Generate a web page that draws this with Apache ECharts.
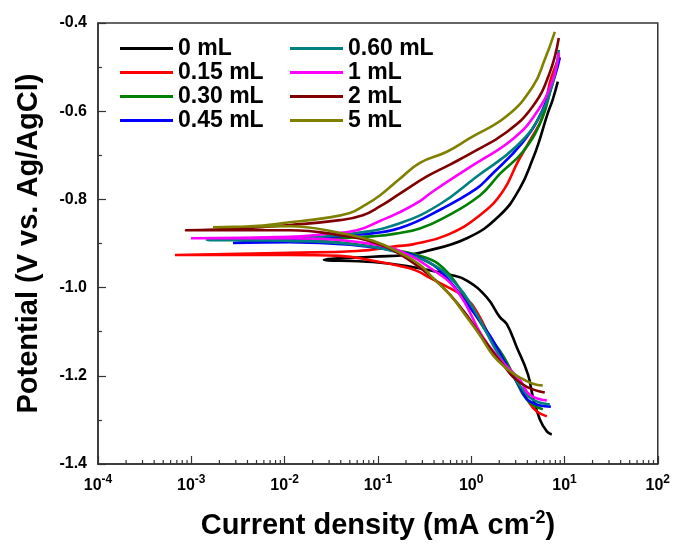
<!DOCTYPE html>
<html>
<head>
<meta charset="utf-8">
<script src="https://cdn.jsdelivr.net/npm/echarts@6/dist/echarts.min.js"></script>
<style>
  html, body { margin: 0; padding: 0; background: #ffffff; }
  #chart { width: 673px; height: 545px; }
</style>
</head>
<body>
<div id="chart"></div>
<script>
// Tafel polarization curves: current density (mA cm^-2) vs potential (V vs. Ag/AgCl)
const seriesNames = ['0 mL', '0.15 mL', '0.30 mL', '0.45 mL', '0.60 mL', '1 mL', '2 mL', '5 mL'];
const xDecades = [-4, -3, -2, -1, 0, 1, 2];
const yTickValues = [-1.4, -1.2, -1.0, -0.8, -0.6, -0.4];

// each curve: cathodic branch (from the high-current end) -> corrosion point -> anodic branch
const d0 = [
  [7.31, -1.333], [6.47, -1.326], [5.45, -1.299], [4.58, -1.247], [4.05, -1.196], [3.08, -1.135],
  [2.41, -1.083], [2.03, -1.067], [1.47, -1.022], [0.899, -0.984], [0.592, -0.971], [0.205, -0.951],
  [0.0885, -0.942], [0.0264, -0.937],
  [0.0885, -0.930], [0.205, -0.926], [0.282, -0.921], [0.899, -0.888], [2.03, -0.836], [3.32, -0.775],
  [4.58, -0.708], [5.45, -0.663], [6.47, -0.611], [7.50, -0.573], [8.49, -0.533]
];
const d015 = [
  [6.47, -1.292], [5.06, -1.281], [4.26, -1.263], [2.80, -1.196], [2.03, -1.146], [1.58, -1.112],
  [1.24, -1.067], [0.899, -1.025], [0.548, -0.998], [0.361, -0.978], [0.262, -0.962], [0.172, -0.951],
  [0.0885, -0.939], [0.0392, -0.928], [0.0114, -0.926], [0.000668, -0.926],
  [0.0114, -0.921], [0.0596, -0.917], [0.160, -0.906], [0.237, -0.902], [0.548, -0.881], [1.24, -0.836],
  [2.18, -0.782], [3.16, -0.715], [4.26, -0.667], [5.86, -0.611], [6.97, -0.535], [8.28, -0.490], [8.91, -0.477]
];
const d030 = [
  [5.86, -1.276], [3.95, -1.254], [2.80, -1.196], [2.18, -1.153], [1.58, -1.112], [1.04, -1.052],
  [0.703, -0.993], [0.498, -0.955], [0.335, -0.933], [0.172, -0.917], [0.0641, -0.903], [0.0239, -0.894],
  [0.00891, -0.888],
  [0.0239, -0.888], [0.0975, -0.883], [0.172, -0.876], [0.282, -0.866], [0.498, -0.843], [1.24, -0.791],
  [2.03, -0.742], [3.58, -0.692], [5.72, -0.618], [7.31, -0.539], [8.69, -0.472]
];
const d045 = [
  [7.14, -1.270], [4.26, -1.258], [3.32, -1.225], [2.30, -1.169], [1.58, -1.108], [0.968, -1.045],
  [0.548, -0.978], [0.361, -0.944], [0.172, -0.919], [0.0501, -0.903], [0.0114, -0.897], [0.00280, -0.899],
  [0.0114, -0.890], [0.0690, -0.879], [0.172, -0.865], [0.498, -0.820], [1.15, -0.775], [1.58, -0.748],
  [3.58, -0.670], [5.86, -0.596], [7.88, -0.521], [8.91, -0.479]
];
const d060 = [
  [6.97, -1.265], [4.58, -1.254], [3.58, -1.231], [2.03, -1.157], [1.04, -1.045], [0.637, -0.984],
  [0.388, -0.948], [0.172, -0.921], [0.0501, -0.901], [0.0114, -0.894], [0.00147, -0.892],
  [0.0114, -0.888], [0.0596, -0.876], [0.172, -0.854], [0.461, -0.811], [1.15, -0.748], [3.08, -0.679],
  [5.45, -0.611], [7.50, -0.535], [8.69, -0.461]
];
const d1 = [
  [6.47, -1.256], [4.26, -1.243], [3.32, -1.209], [2.03, -1.162], [1.33, -1.112], [0.703, -1.007],
  [0.361, -0.955], [0.172, -0.917], [0.0975, -0.903], [0.0392, -0.892], [0.0114, -0.888], [0.000991, -0.888],
  [0.0114, -0.885], [0.0258, -0.879], [0.0596, -0.870], [0.105, -0.849], [0.172, -0.829], [0.282, -0.804],
  [0.388, -0.782], [0.968, -0.727], [2.80, -0.663], [5.06, -0.602], [7.50, -0.528], [8.69, -0.467]
];
const d2 = [
  [6.15, -1.238], [3.95, -1.225], [2.80, -1.202], [2.30, -1.180], [1.71, -1.146], [1.24, -1.106],
  [0.899, -1.063], [0.592, -1.016], [0.388, -0.978], [0.172, -0.924], [0.0885, -0.897], [0.0392, -0.881],
  [0.0114, -0.870], [0.000877, -0.870],
  [0.00333, -0.866], [0.0114, -0.858], [0.0392, -0.847], [0.0690, -0.836], [0.105, -0.816], [0.172, -0.787],
  [0.335, -0.748], [0.592, -0.721], [0.968, -0.697], [2.41, -0.647], [4.58, -0.589], [6.97, -0.512], [8.69, -0.434]
];
const d5 = [
  [5.86, -1.222], [4.58, -1.218], [3.32, -1.204], [2.41, -1.184], [1.71, -1.153], [1.24, -1.108],
  [0.899, -1.067], [0.592, -1.016], [0.388, -0.978], [0.282, -0.948], [0.172, -0.921], [0.0885, -0.894],
  [0.0392, -0.876], [0.0114, -0.861], [0.00171, -0.863],
  [0.00426, -0.861], [0.0114, -0.852], [0.0258, -0.843], [0.0501, -0.831], [0.0690, -0.816], [0.105, -0.791],
  [0.172, -0.753], [0.282, -0.717], [0.548, -0.692], [0.968, -0.661], [2.41, -0.611], [4.58, -0.544],
  [6.15, -0.483], [7.88, -0.420]
];

const curveData = [d0, d015, d030, d045, d060, d1, d2, d5];
const lineColors = ['#000000', '#ff0000', '#008000', '#0000ff', '#008080', '#ff00ff', '#800000', '#808000'];

const FONT = '"Liberation Sans", Arial, Helvetica, sans-serif';
const chart = echarts.init(document.getElementById('chart'), null, { renderer: 'canvas' });

const legendCommon = {
  orient: 'vertical',
  top: 37,
  padding: 0,
  icon: 'rect',
  itemWidth: 53,
  itemHeight: 3,
  itemGap: 1,
  selectedMode: false,
  textStyle: { fontFamily: FONT, fontSize: 23, fontWeight: 'bold', color: '#000', lineHeight: 23 }
};

chart.setOption({
  animation: false,
  backgroundColor: '#ffffff',
  grid: { left: 98, right: 15, top: 23, bottom: 77, show: true, borderColor: '#333', borderWidth: 1.5, backgroundColor: 'transparent' },
  legend: [
    Object.assign({}, legendCommon, { left: 120, data: seriesNames.slice(0, 4) }),
    Object.assign({}, legendCommon, { left: 290, data: seriesNames.slice(4) })
  ],
  xAxis: {
    type: 'log',
    logBase: 10,
    min: Math.pow(10, xDecades[0]),
    max: Math.pow(10, xDecades[xDecades.length - 1]),
    name: '{t|Current density (mA cm}{s|-2}{t|)}',
    nameLocation: 'middle',
    nameGap: 44,
    nameTextStyle: {
      rich: {
        t: { fontFamily: FONT, fontSize: 29, fontWeight: 'bold', color: '#000', verticalAlign: 'bottom', lineHeight: 32 },
        s: { fontFamily: FONT, fontSize: 18, fontWeight: 'bold', color: '#000', verticalAlign: 'bottom', lineHeight: 32, padding: [0, 0, 13, 0] }
      }
    },
    axisLine: { show: true, lineStyle: { color: '#333', width: 1.5 } },
    axisTick: { show: true, inside: true, length: 8, lineStyle: { color: '#333', width: 1.2 } },
    splitLine: { show: false },
    axisLabel: {
      margin: 10,
      formatter: function (v) {
        const e = Math.round(Math.log10(v));
        return '{b|10}{s|' + e + '}';
      },
      rich: {
        b: { fontFamily: FONT, fontSize: 16, fontWeight: 'bold', color: '#000', verticalAlign: 'bottom', lineHeight: 20 },
        s: { fontFamily: FONT, fontSize: 12, fontWeight: 'bold', color: '#000', verticalAlign: 'bottom', lineHeight: 20, padding: [0, 0, 8, 0] }
      }
    }
  },
  yAxis: {
    type: 'value',
    min: yTickValues[0],
    max: yTickValues[yTickValues.length - 1],
    interval: 0.2,
    name: 'Potential (V vs. Ag/AgCl)',
    nameLocation: 'middle',
    nameGap: 55,
    nameTextStyle: { fontFamily: FONT, fontSize: 29, fontWeight: 'bold', color: '#000' },
    axisLine: { show: true, lineStyle: { color: '#333', width: 1.5 } },
    axisTick: { show: true, inside: true, length: 8, lineStyle: { color: '#333', width: 1.2 } },
    minorTick: { show: true, splitNumber: 2, length: 4, lineStyle: { color: '#333', width: 1.2 } },
    splitLine: { show: false },
    minorSplitLine: { show: false },
    axisLabel: {
      margin: 11,
      fontFamily: FONT, fontSize: 16, fontWeight: 'bold', color: '#000',
      formatter: function (v) { return v.toFixed(1); }
    }
  },
  series: curveData.map(function (d, i) {
    return {
      name: seriesNames[i],
      type: 'line',
      data: d,
      showSymbol: false,
      smooth: 0.45,
      color: lineColors[i],
      lineStyle: { width: 2.6, color: lineColors[i] },
      emphasis: { disabled: true }
    };
  })
});

// minor ticks of the log axis at 2..9 within each decade
(function drawLogMinorTicks() {
  const yBottom = chart.convertToPixel({ yAxisIndex: 0 }, yTickValues[0]);
  const ticks = [];
  for (let k = 0; k < xDecades.length - 1; k++) {
    for (let m = 2; m <= 9; m++) {
      const x = chart.convertToPixel({ xAxisIndex: 0 }, m * Math.pow(10, xDecades[k]));
      ticks.push({
        type: 'line',
        silent: true,
        shape: { x1: x, y1: yBottom, x2: x, y2: yBottom - 4 },
        style: { stroke: '#333', lineWidth: 1.2 }
      });
    }
  }
  chart.setOption({ graphic: ticks });
})();
</script>
</body>
</html>
